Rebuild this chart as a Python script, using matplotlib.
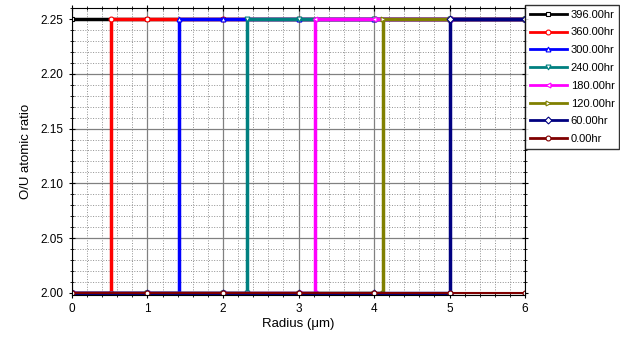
import matplotlib.pyplot as plt
from matplotlib.ticker import MultipleLocator

plt.rcParams['font.family'] = ['Liberation Sans', 'DejaVu Sans']

# O/U ratio profiles vs radius, one list pair per time
labels = ["396.00hr", "360.00hr", "300.00hr", "240.00hr",
          "180.00hr", "120.00hr", "60.00hr", "0.00hr"]
colors = ["#000000", "#ff0000", "#0000ff", "#008080",
          "#ff00ff", "#808000", "#000080", "#800000"]
markers = ["s", "o", "^", "v", "<", ">", "D", "o"]

x_396 = [0, 1, 2, 3, 4, 5, 6]
y_396 = [2.25, 2.25, 2.25, 2.25, 2.25, 2.25, 2.25]
x_360 = [0, 0.52, 0.52, 1, 2, 3, 4, 5, 6]
y_360 = [2.0, 2.0, 2.25, 2.25, 2.25, 2.25, 2.25, 2.25, 2.25]
x_300 = [0, 1, 1.42, 1.42, 2, 3, 4, 5, 6]
y_300 = [2.0, 2.0, 2.0, 2.25, 2.25, 2.25, 2.25, 2.25, 2.25]
x_240 = [0, 1, 2, 2.32, 2.32, 3, 4, 5, 6]
y_240 = [2.0, 2.0, 2.0, 2.0, 2.25, 2.25, 2.25, 2.25, 2.25]
x_180 = [0, 1, 2, 3, 3.22, 3.22, 4, 5, 6]
y_180 = [2.0, 2.0, 2.0, 2.0, 2.0, 2.25, 2.25, 2.25, 2.25]
x_120 = [0, 1, 2, 3, 4, 4.12, 4.12, 5, 6]
y_120 = [2.0, 2.0, 2.0, 2.0, 2.0, 2.0, 2.25, 2.25, 2.25]
x_60 = [0, 1, 2, 3, 4, 5, 5.0, 6]
y_60 = [2.0, 2.0, 2.0, 2.0, 2.0, 2.0, 2.25, 2.25]
x_0 = [0, 1, 2, 3, 4, 5, 6]
y_0 = [2.0, 2.0, 2.0, 2.0, 2.0, 2.0, 2.0]

xs = [x_396, x_360, x_300, x_240, x_180, x_120, x_60, x_0]
ys = [y_396, y_360, y_300, y_240, y_180, y_120, y_60, y_0]

fig = plt.figure(figsize=(6.2, 3.38), dpi=100)
ax = fig.add_axes([0.116, 0.127, 0.731, 0.849])

for x, y, lab, c, m in zip(xs, ys, labels, colors, markers):
    lw = 1.5 if lab == "0.00hr" else 2.5
    ax.plot(x, y, color=c, lw=lw, marker=m, ms=3.5, mfc="white",
            mec=c, mew=0.8, label=lab)

ax.set_xlim(0, 6)
ax.set_ylim(1.998, 2.26)
ax.xaxis.set_major_locator(MultipleLocator(1))
ax.xaxis.set_minor_locator(MultipleLocator(0.2))
ax.yaxis.set_major_locator(MultipleLocator(0.05))
ax.yaxis.set_minor_locator(MultipleLocator(0.01))
ax.grid(which="major", color="#808080", lw=0.9)
ax.grid(which="minor", color="#909090", lw=0.7, ls=":")
ax.set_axisbelow(True)
ax.tick_params(which="both", top=True, right=True, direction="inout",
               labelsize=8.5)
ax.tick_params(which="major", length=5)
ax.tick_params(which="minor", length=3)
ax.set_yticklabels([f"{v:.2f}" for v in ax.get_yticks()])

ax.set_xlabel("Radius (\u03bcm)", fontsize=9.5, labelpad=2)
ax.set_ylabel("O/U atomic ratio", fontsize=9.5, labelpad=6)

leg = ax.legend(loc="upper left", bbox_to_anchor=(1.0, 1.01), fontsize=8,
                handlelength=3.4, frameon=True, fancybox=False,
                borderaxespad=0, labelspacing=0.7, handletextpad=0.3,
                borderpad=0.4)
leg.get_frame().set_edgecolor("black")
leg.get_frame().set_linewidth(1)
for h in leg.get_lines():
    h.set_linewidth(2)

fig.savefig("out.png", dpi=100)
